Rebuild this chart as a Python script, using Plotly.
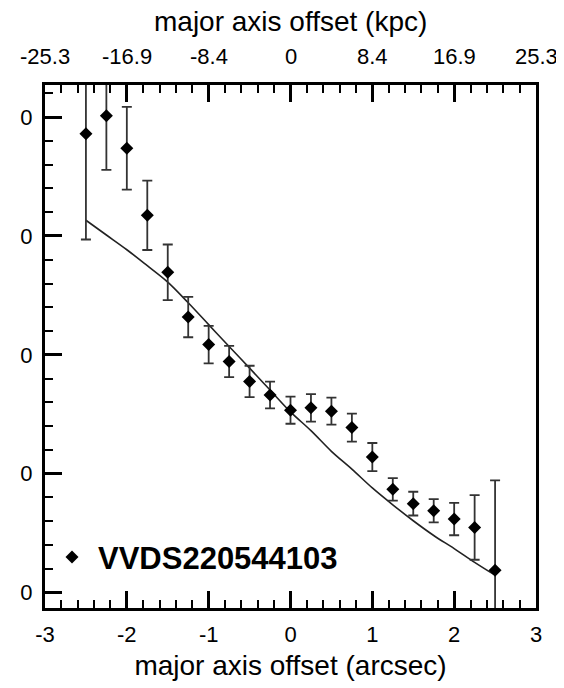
import plotly.graph_objects as go

# data (arcsec offset, velocity-like units)
x_obs = [-2.5, -2.25, -2.0, -1.75, -1.5, -1.25, -1.0, -0.75, -0.5, -0.25, 0.0,
         0.25, 0.5, 0.75, 1.0, 1.25, 1.5, 1.75, 2.0, 2.25, 2.5]
y_obs = [93.0, 100.6, 86.9, 58.7, 34.7, 15.9, 4.3, -2.8, -11.2, -16.9, -23.3,
         -22.3, -23.7, -30.6, -43.0, -56.6, -62.6, -65.6, -69.1, -72.6, -90.6]
y_err = [44.5, 22.8, 17.4, 14.6, 11.7, 8.5, 7.9, 6.6, 6.6, 5.6, 5.7,
         5.8, 5.7, 5.9, 5.9, 4.7, 5.0, 4.9, 6.8, 13.6, 37.8]

x_model = [-2.5, -2.25, -2.0, -1.75, -1.5, -1.25, -1.0, -0.75, -0.5, -0.25, 0.0,
           0.25, 0.5, 0.75, 1.0, 1.25, 1.5, 1.75, 2.0, 2.25, 2.5]
y_model = [56.6, 50.4, 44.2, 37.5, 30.6, 21.9, 12.7, 3.5, -5.6, -14.8, -24.0,
           -31.9, -40.6, -48.1, -56.0, -63.1, -69.8, -76.0, -81.5, -87.3, -92.7]

x_tick_vals = [-3, -2, -1, 0, 1, 2, 3]
x_tick_labels = ["-3", "-2", "-1", "0", "1", "2", "3"]
kpc_tick_labels = ["-25.3", "-16.9", "-8.4", "0", "8.4", "16.9", "25.3"]
y_tick_labels = ["0", "0", "0", "0", "0"]
label = "VVDS220544103"

FONT = "Liberation Sans, Arial, Helvetica, sans-serif"

x_default = ["\u22123", "\u22122", "\u22121", "0", "1", "2", "3"]
y_default = ["100", "50", "0", "\u221250", "\u2212100"]
x_alias = dict(zip(x_default, x_tick_labels))
y_alias = dict(zip(y_default, y_tick_labels))

fig = go.Figure()
fig.add_trace(go.Scatter(x=x_model, y=y_model, mode="lines", line_shape="spline",
                         line=dict(color="#222222", width=1.6),
                         showlegend=False, hoverinfo="skip"))
fig.add_trace(go.Scatter(x=x_obs, y=y_obs, mode="markers", name=label,
                         marker=dict(symbol="diamond", size=10, color="black"),
                         error_y=dict(type="data", array=y_err, visible=True,
                                      color="#333333", thickness=1.8, width=5),
                         showlegend=True))

fig.update_layout(
    width=556, height=680,
    margin=dict(l=37, r=28, t=77, b=75),
    font=dict(family=FONT, size=22, color="black"),
    plot_bgcolor="white",
    xaxis=dict(range=[-3, 3], dtick=1, tick0=0,
               labelalias=x_alias, mirror="allticks",
               showline=True, linecolor="black", linewidth=3,
               ticks="inside", ticklen=17, tickwidth=2.5, tickcolor="black",
               minor=dict(dtick=0.2, ticks="inside", ticklen=8, tickwidth=1.5,
                          tickcolor="black"),
               ticklabelstandoff=5,
               title=dict(text="major axis offset (arcsec)",
                          font=dict(size=28), standoff=9)),
    yaxis=dict(range=[-106.5, 113.5], dtick=50, tick0=0,
               labelalias=y_alias, mirror=True,
               showline=True, linecolor="black", linewidth=3,
               ticks="inside", ticklen=17, tickwidth=2.5, tickcolor="black",
               minor=dict(dtick=10, ticks="inside", ticklen=8, tickwidth=1.5,
                          tickcolor="black"),
               ticklabelstandoff=5),
    legend=dict(x=0.002, y=0.097, xanchor="left", yanchor="middle",
                itemwidth=42, bgcolor="rgba(0,0,0,0)",
                font=dict(size=31, weight="bold")),
    showlegend=True,
)

for xv, txt in zip(x_tick_vals, kpc_tick_labels):
    fig.add_annotation(x=xv, y=1, xref="x", yref="paper", yanchor="bottom",
                       yshift=14, text=txt, showarrow=False)
fig.add_annotation(x=0.5, y=1, xref="paper", yref="paper", yanchor="bottom",
                   yshift=46, text="major axis offset (kpc)", showarrow=False,
                   font=dict(size=28))

fig.write_html("out.html")
